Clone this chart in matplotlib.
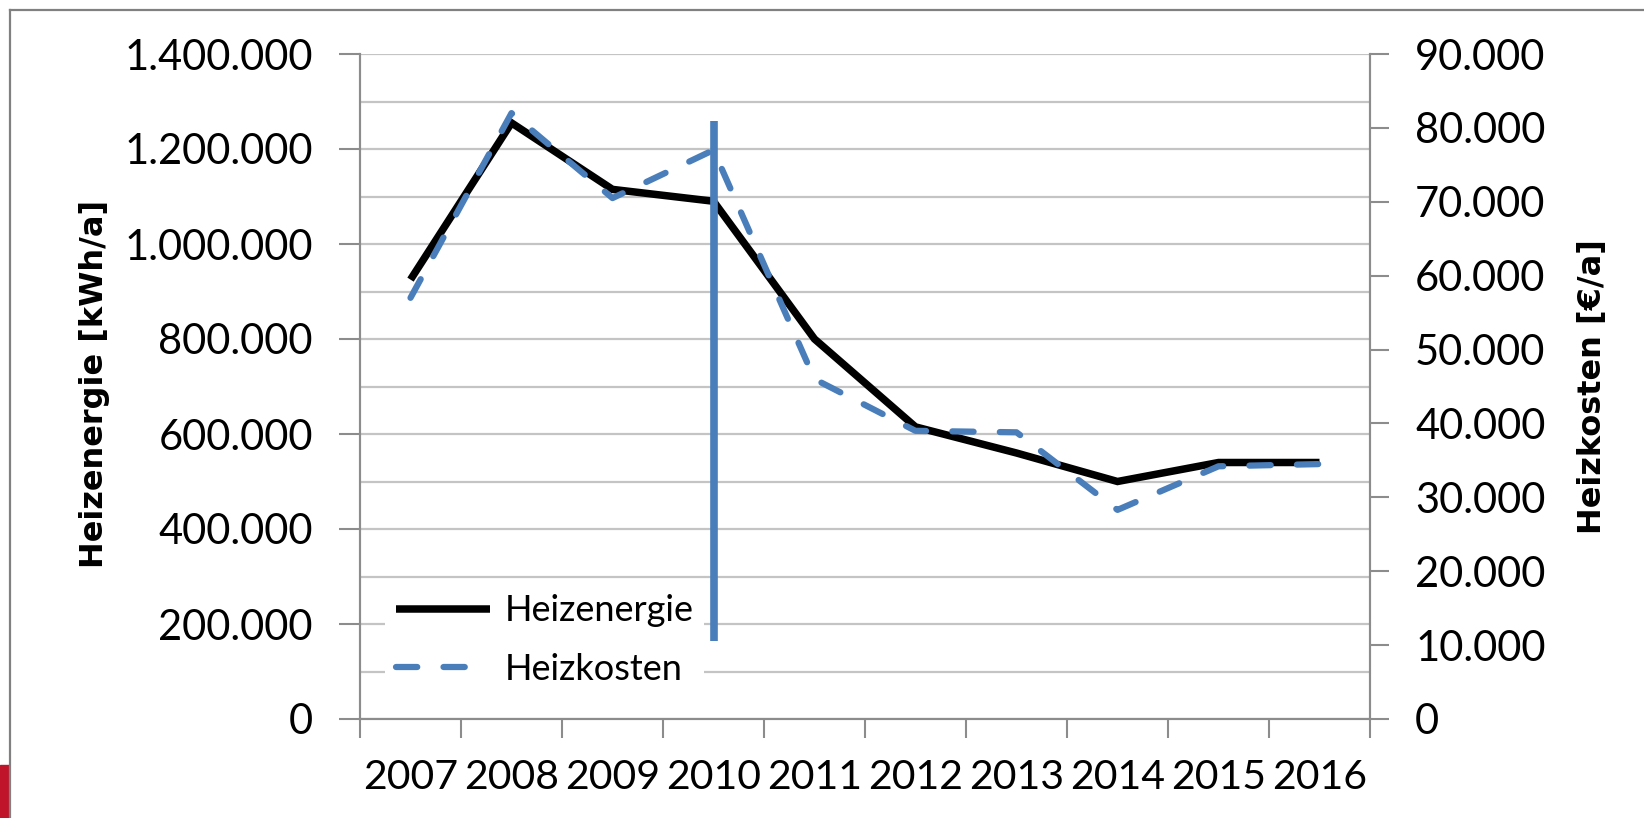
import matplotlib
matplotlib.use('Agg')
import matplotlib.pyplot as plt
from matplotlib.lines import Line2D
from matplotlib.patches import Rectangle
from matplotlib.ticker import FuncFormatter, MultipleLocator

# Daten
jahre = ['2007', '2008', '2009', '2010', '2011', '2012', '2013', '2014', '2015', '2016']
heizenergie = [925000, 1255000, 1115000, 1090000, 800000, 615000, 560000, 500000, 540000, 540000]
heizkosten = [57000, 82000, 70500, 77000, 46000, 39000, 38800, 28300, 34200, 34500]

# senkrechte Markierung (Sanierung), in Einheiten der rechten Achse
sanierung_jahr = '2010'
sanierung_von = 10500
sanierung_bis = 81000

blau = '#4a7ebb'
grau = '#8c8c8c'
gitter = '#c4c4c4'
tickfont = 'Lato'


def punkte(v, pos):
    return '{:,.0f}'.format(v).replace(',', '.')


fig = plt.figure(figsize=(16.44, 8.18), dpi=100)
ax1 = fig.add_axes([360 / 1644, 1 - 719 / 818, 1010 / 1644, 665 / 818])
ax2 = ax1.twinx()

x = list(range(len(jahre)))

ax1.plot(x, heizenergie, color='black', lw=5.4, solid_joinstyle='miter',
         solid_capstyle='butt', label='Heizenergie', zorder=3)
ax2.plot(x, heizkosten, color=blau, lw=4.5, dashes=(3.4, 4.2),
         dash_capstyle='round', label='Heizkosten', zorder=3)
xs = jahre.index(sanierung_jahr)
ax2.plot([xs, xs], [sanierung_von, sanierung_bis], color=blau, lw=5.5,
         solid_capstyle='butt', zorder=4)

# Achsen
ax1.set_xlim(-0.5, len(jahre) - 0.5)
ax1.set_ylim(0, 1400000)
ax2.set_ylim(0, 90000)

ax1.yaxis.set_major_locator(MultipleLocator(200000))
ax1.yaxis.set_minor_locator(MultipleLocator(100000))
ax1.yaxis.set_major_formatter(FuncFormatter(punkte))
ax2.yaxis.set_major_locator(MultipleLocator(10000))
ax2.yaxis.set_major_formatter(FuncFormatter(punkte))

ax1.set_xticks([i - 0.5 for i in range(len(jahre) + 1)])
ax1.set_xticklabels([])
ax1.set_xticks(x, minor=True)
ax1.set_xticklabels(jahre, minor=True, fontsize=29.5, family=tickfont)
ax1.tick_params(axis='x', which='major', length=14, width=1.5, color=grau)
ax1.tick_params(axis='x', which='minor', length=0, pad=29)

ax1.grid(axis='y', which='both', color=gitter, lw=1.6)
ax1.set_axisbelow(True)
ax1.tick_params(axis='y', which='major', length=15, width=1.5, color=grau,
                pad=19, labelsize=30)
ax1.tick_params(axis='y', which='minor', length=0)
ax2.tick_params(axis='y', length=14, width=1.5, color=grau, pad=18.5, labelsize=30)
for lab in ax1.get_yticklabels() + ax2.get_yticklabels():
    lab.set_family(tickfont)

for a in (ax1, ax2):
    a.spines['top'].set_visible(False)
    for s in ('left', 'right', 'bottom'):
        a.spines[s].set_color(grau)
        a.spines[s].set_linewidth(1.5)

ax1.set_ylabel('Heizenergie [kWh/a]', fontsize=23, fontweight='bold')
ax1.yaxis.set_label_coords(-0.248, 0.504)
ax2.set_ylabel('Heizkosten [€/a]', fontsize=23, fontweight='bold')
ax2.yaxis.set_label_coords(1.205, 0.50)

h1, l1 = ax1.get_legend_handles_labels()
h2, l2 = ax2.get_legend_handles_labels()
leg = ax2.legend(h1 + h2, l1 + l2, loc='lower left', bbox_to_anchor=(0.025, 0.034),
                 frameon=True, facecolor='white', edgecolor='none', framealpha=1,
                 fancybox=False, prop={'family': tickfont, 'size': 26},
                 handlelength=2.6, handletextpad=0.4, labelspacing=0.7,
                 borderpad=0.3, borderaxespad=0)

# Rahmen und roter Balken
fig.add_artist(Line2D([10 / 1644, 10 / 1644], [0, 1 - 10 / 818],
                      color='#808080', lw=1.6))
fig.add_artist(Line2D([10 / 1644, 1], [1 - 10 / 818, 1 - 10 / 818],
                      color='#808080', lw=1.6))
fig.add_artist(Rectangle((0, 0), 9 / 1644, 53 / 818, color='#c0142a'))

fig.savefig('out.png', dpi=100)
